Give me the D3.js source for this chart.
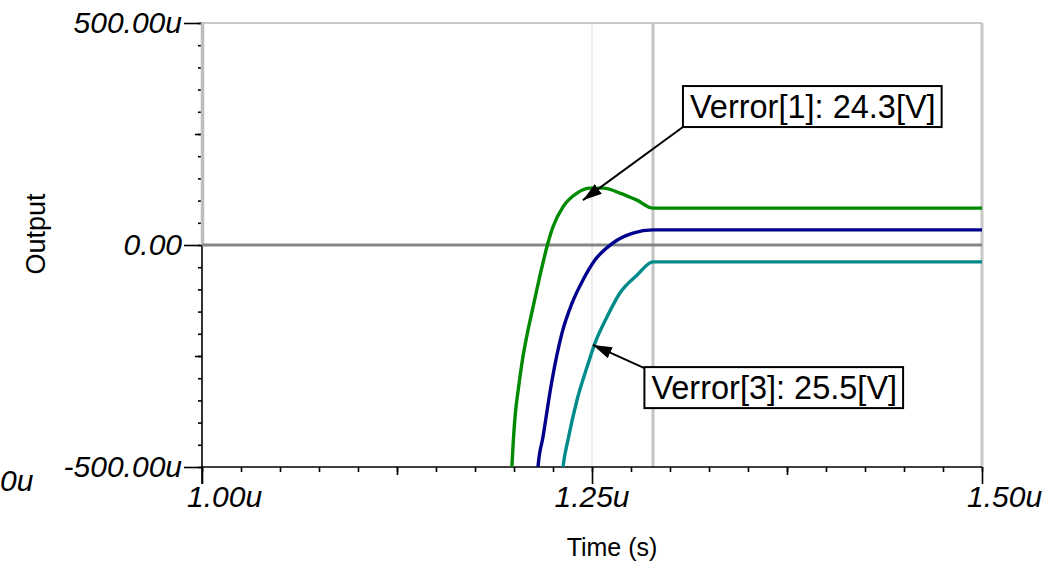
<!DOCTYPE html>
<html>
<head>
<meta charset="utf-8">
<script src="https://cdn.jsdelivr.net/npm/d3@7"></script>
<style>
  body { margin: 0; background: #fff; }
  svg text { font-family: "Liberation Sans", Arial, sans-serif; fill: #000; }
  .tick-label { font-size: 30px; font-style: italic; }
  .axis-title { font-size: 25px; }
  .note-text { font-size: 32.5px; }
</style>
</head>
<body>
<div id="chart"></div>
<script>
(function() {
    // series: time in us, output in uV
    var greenTime  = [1.1983, 1.1996, 1.2009, 1.2028, 1.2054, 1.2086, 1.2122, 1.2179, 1.2218, 1.2250, 1.2314, 1.2404, 1.2487, 1.2571, 1.2679, 1.2788, 1.2891, 1.5000];
    var greenValue = [-520, -439, -378, -324, -259, -198, -140, -50, 5, 41, 86, 117, 128, 128, 117, 101, 83, 83];

    var blueTime  = [1.2150, 1.2154, 1.2186, 1.2244, 1.2308, 1.2372, 1.2442, 1.2519, 1.2635, 1.2763, 1.2891, 1.5000];
    var blueValue = [-520, -500, -432, -304, -198, -131, -79, -34, 5, 27, 34, 34];

    var tealTime  = [1.2308, 1.2314, 1.2346, 1.2404, 1.2468, 1.2519, 1.2596, 1.2679, 1.2788, 1.2891, 1.5000];
    var tealValue = [-520, -500, -439, -349, -275, -221, -162, -108, -68, -38, -38];

    var seriesNames  = ["Verror[1]", "Verror[2]", "Verror[3]"];
    var seriesColors = ["#008a00", "#00008c", "#008b8b"];

    var xTickValues = [1.00, 1.25, 1.50];
    var xTickLabels = ["1.00u", "1.25u", "1.50u"];
    var yTickValues = [500, 0, -500];
    var yTickLabels = ["500.00u", "0.00", "-500.00u"];

    var cursorTime = 1.2891;
    var gridTime = 1.25;

    var noteLabels   = ["Verror[1]: 24.3[V]", "Verror[3]: 25.5[V]"];
    var noteTipTime  = [1.2442, 1.2506];
    var noteTipValue = [101, -225];
    var noteBoxTime  = [1.3083, 1.2836];
    var noteBoxValue = [358, -275];

    var baseWidth = 1049;
    var baseHeight = 571;

    var margin = {top: 23, right: 67, bottom: 104, left: 202},
        width = baseWidth - margin.left - margin.right,
        height = baseHeight - margin.top - margin.bottom;

    var x = d3.scaleLinear().domain([1.0, 1.5]).range([0, width]);
    var y = d3.scaleLinear().domain([-500, 500]).range([height, 0]);

    var svg = d3.select("#chart")
        .append("svg")
            .attr("width", baseWidth)
            .attr("height", baseHeight);

    var defs = svg.append("defs");
    defs.append("clipPath")
        .attr("id", "plot-clip")
        .append("rect")
            .attr("width", width)
            .attr("height", height);

    defs.append("marker")
        .attr("id", "arrow")
        .attr("markerUnits", "userSpaceOnUse")
        .attr("viewBox", "0 -6 19 12")
        .attr("refX", 19)
        .attr("refY", 0)
        .attr("markerWidth", 19)
        .attr("markerHeight", 12)
        .attr("orient", "auto")
        .append("path")
            .attr("d", "M0,-6L19,0L0,6Z")
            .style("fill", "#000");

    var g = svg.append("g")
        .attr("transform", "translate(" + margin.left + "," + margin.top + ")");

    // grid and cursor
    g.append("line")
        .attr("x1", x(gridTime)).attr("x2", x(gridTime))
        .attr("y1", 0).attr("y2", height)
        .style("stroke", "#dadada")
        .style("stroke-width", 1);

    g.append("line")
        .attr("x1", x(cursorTime)).attr("x2", x(cursorTime))
        .attr("y1", 0).attr("y2", height)
        .style("stroke", "#c4c4c4")
        .style("stroke-width", 3);

    // frame
    g.append("line")
        .attr("x1", 0).attr("x2", width)
        .attr("y1", 0).attr("y2", 0)
        .style("stroke", "#c8c8c8")
        .style("stroke-width", 2);

    g.append("line")
        .attr("x1", width).attr("x2", width)
        .attr("y1", 0).attr("y2", height)
        .style("stroke", "#c8c8c8")
        .style("stroke-width", 3);

    // axes: minor, medium, major ticks
    function xAxisTicks(values, size) {
        g.append("g")
            .attr("transform", "translate(0," + height + ")")
            .call(d3.axisBottom(x).tickValues(values).tickSize(size).tickFormat(""))
            .call(function(a) {
                a.select(".domain").remove();
                a.selectAll("line").style("stroke", "#000").style("stroke-width", 1.6);
            });
    }
    function yAxisTicks(values, size) {
        g.append("g")
            .call(d3.axisLeft(y).tickValues(values).tickSize(size).tickFormat(""))
            .call(function(a) {
                a.select(".domain").remove();
                a.selectAll("line").style("stroke", "#000").style("stroke-width", 1.6);
            });
    }

    var xMinor = d3.range(0, 21).map(function(i) { return 1 + i * 0.025; });
    xAxisTicks(xMinor, 5);
    xAxisTicks([1.125, 1.375], 8);
    xAxisTicks(xTickValues, 17);

    var yMinor = d3.range(-10, 11).map(function(i) { return i * 50; });
    yAxisTicks(yMinor, 4);
    yAxisTicks([250, -250], 7);
    yAxisTicks(yTickValues, 18);

    // axis lines
    g.append("line")
        .attr("x1", 0).attr("x2", width)
        .attr("y1", height).attr("y2", height)
        .style("stroke", "#000")
        .style("stroke-width", 1.6);

    g.append("line")
        .attr("x1", 0).attr("x2", 0)
        .attr("y1", y(0)).attr("y2", height + 17)
        .style("stroke", "#000")
        .style("stroke-width", 1.6);

    g.append("line")
        .attr("x1", 0.5).attr("x2", 0.5)
        .attr("y1", 0).attr("y2", y(0))
        .style("stroke", "#bdbdbd")
        .style("stroke-width", 3.5);

    // zero line
    g.append("line")
        .attr("x1", 0).attr("x2", width)
        .attr("y1", y(0)).attr("y2", y(0))
        .style("stroke", "#858585")
        .style("stroke-width", 3);

    // tick labels
    g.selectAll(".x-label")
        .data(xTickValues)
        .enter()
        .append("text")
            .classed("tick-label", true)
            .attr("x", function(d, i) { return i === 1 ? x(d) : x(d) - 15; })
            .attr("y", height + 40)
            .attr("text-anchor", function(d, i) { return i === 1 ? "middle" : "start"; })
            .text(function(d, i) { return xTickLabels[i]; });

    g.selectAll(".y-label")
        .data(yTickValues)
        .enter()
        .append("text")
            .classed("tick-label", true)
            .attr("x", -20)
            .attr("y", function(d) { return y(d) + 10; })
            .attr("text-anchor", "end")
            .text(function(d, i) { return yTickLabels[i]; });

    // stray label at the left edge
    svg.append("text")
        .classed("tick-label", true)
        .attr("x", 0)
        .attr("y", 491)
        .text("0u");

    // axis titles
    svg.append("text")
        .classed("axis-title", true)
        .style("font-size", "27px")
        .attr("transform", "translate(45, 234) rotate(-90)")
        .attr("text-anchor", "middle")
        .text("Output");

    svg.append("text")
        .classed("axis-title", true)
        .attr("x", 612)
        .attr("y", 556)
        .attr("text-anchor", "middle")
        .text("Time (s)");

    // curves
    var series = [
        {name: seriesNames[0], time: greenTime, value: greenValue},
        {name: seriesNames[1], time: blueTime, value: blueValue},
        {name: seriesNames[2], time: tealTime, value: tealValue}
    ];

    var line = d3.line()
        .x(function(d) { return x(d[0]); })
        .y(function(d) { return y(d[1]); })
        .curve(d3.curveMonotoneX);

    g.append("g")
        .attr("clip-path", "url(#plot-clip)")
        .selectAll("path")
        .data(series)
        .enter()
        .append("path")
            .attr("d", function(s) { return line(d3.zip(s.time, s.value)); })
            .style("fill", "none")
            .style("stroke", function(s, i) { return seriesColors[i]; })
            .style("stroke-width", 3.4);

    // annotations
    var notes = g.selectAll(".note")
        .data(noteLabels)
        .enter()
        .append("g")
            .classed("note", true);

    notes.append("line")
        .attr("x1", function(d, i) { return x(noteBoxTime[i]); })
        .attr("y1", function(d, i) { return i === 0 ? y(noteBoxValue[i]) + 41 : y(noteBoxValue[i]) + 1; })
        .attr("x2", function(d, i) { return x(noteTipTime[i]); })
        .attr("y2", function(d, i) { return y(noteTipValue[i]); })
        .style("stroke", "#000")
        .style("stroke-width", 2)
        .attr("marker-end", "url(#arrow)");

    var boxes = notes.append("rect")
        .attr("x", function(d, i) { return x(noteBoxTime[i]); })
        .attr("y", function(d, i) { return y(noteBoxValue[i]); })
        .attr("height", 41)
        .style("fill", "#fff")
        .style("stroke", "#000")
        .style("stroke-width", 2);

    notes.append("text")
        .classed("note-text", true)
        .attr("x", function(d, i) { return x(noteBoxTime[i]) + 7; })
        .attr("y", function(d, i) { return y(noteBoxValue[i]) + 32; })
        .text(function(d) { return d; });

    boxes.each(function() {
        var len = this.parentNode.querySelector("text").getComputedTextLength();
        d3.select(this).attr("width", len + 13);
    });
})();
</script>
</body>
</html>
